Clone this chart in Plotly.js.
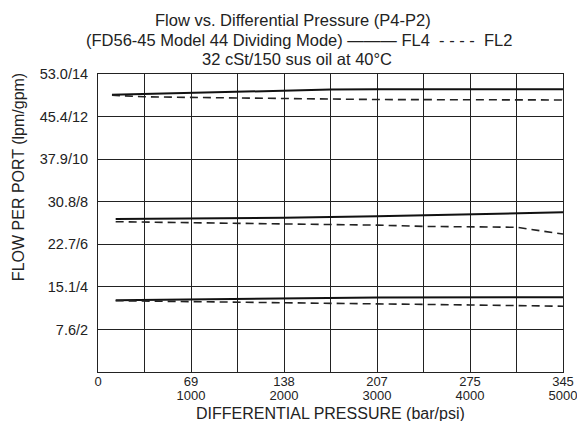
<!DOCTYPE html>
<html>
<head>
<meta charset="utf-8">
<script src="https://cdn.plot.ly/plotly-3.0.1.min.js"></script>
<style>html,body{margin:0;padding:0;background:#fff;}#chart{width:577px;height:421px;}</style>
</head>
<body>
<div id="chart"></div>
<script>
// Pressure (psi) and flow per port (gpm)
var topFL4X = [150, 1000, 2000, 2500, 3000, 4000, 5000];
var topFL4Y = [13.02, 13.12, 13.22, 13.27, 13.28, 13.28, 13.28];
var topFL2X = [150, 500, 1000, 2000, 2500, 3000, 4000, 5000];
var topFL2Y = [13.00, 12.93, 12.90, 12.84, 12.81, 12.80, 12.79, 12.78];

var midFL4X = [190, 1000, 2000, 3000, 4000, 5000];
var midFL4Y = [7.19, 7.21, 7.25, 7.32, 7.42, 7.50];
var midFL2X = [190, 1000, 2000, 3000, 3500, 4500, 5000];
var midFL2Y = [7.06, 7.02, 6.96, 6.90, 6.84, 6.80, 6.48];

var lowFL4X = [190, 1000, 2000, 2500, 3000, 5000];
var lowFL4Y = [3.37, 3.41, 3.45, 3.47, 3.50, 3.51];
var lowFL2X = [190, 1000, 2000, 3000, 4000, 5000];
var lowFL2Y = [3.35, 3.30, 3.25, 3.20, 3.15, 3.09];

var xTickVals = [0, 500, 1000, 1500, 2000, 2500, 3000, 3500, 4000, 4500, 5000];
var xTickBar = ['0', '', '69', '', '138', '', '207', '', '275', '', '345'];
var xTickPsi = ['', '', '1000', '', '2000', '', '3000', '', '4000', '', '5000'];
var yTickVals = [0, 2, 4, 6, 8, 10, 12, 14];
var yTickText = ['', '7.6/2', '15.1/4', '22.7/6', '30.8/8', '37.9/10', '45.4/12', '53.0/14'];

var titleLines = [
  'Flow vs. Differential Pressure (P4-P2)',
  '(FD56-45 Model 44 Dividing Mode) \u2014\u2014\u2014 FL4  - - - -  FL2',
  '32 cSt/150 sus oil at 40\u00B0C'
];

var solid = {color: '#111', width: 2};
var dashed = {color: '#222', width: 1.6, dash: '8px,5px'};

function tr(x, y, line, name) {
  return {x: x, y: y, type: 'scatter', mode: 'lines', line: line, name: name, showlegend: false, hoverinfo: 'skip'};
}

var data = [
  tr(topFL4X, topFL4Y, solid, 'FL4'),
  tr(topFL2X, topFL2Y, dashed, 'FL2'),
  tr(midFL4X, midFL4Y, solid, 'FL4'),
  tr(midFL2X, midFL2Y, dashed, 'FL2'),
  tr(lowFL4X, lowFL4Y, solid, 'FL4'),
  tr(lowFL2X, lowFL2Y, dashed, 'FL2'),
  {x: [0, 5000], y: [0, 0], xaxis: 'x2', yaxis: 'y', type: 'scatter', mode: 'lines',
   line: {width: 0, color: 'rgba(0,0,0,0)'}, showlegend: false, hoverinfo: 'skip'}
];

var fam = 'Liberation Sans, Arial, sans-serif';
var ink = '#222';

var titleY = [1.181, 1.114, 1.050];
var titleX = [0.419, 0.432, 0.429];
var annotations = titleLines.map(function (t, i) {
  return {text: t, xref: 'paper', yref: 'paper', x: titleX[i], y: titleY[i],
          xanchor: 'center', yanchor: 'middle', showarrow: false,
          font: {size: 16.5, family: fam, color: ink}};
});
annotations.push(
  {text: 'FLOW PER PORT (lpm/gpm)', textangle: -90, xref: 'paper', yref: 'paper',
   x: -0.172, y: 0.654, xanchor: 'center', yanchor: 'middle', showarrow: false,
   font: {size: 16, family: fam, color: ink}},
  {text: 'DIFFERENTIAL PRESSURE (bar/psi)', xref: 'paper', yref: 'paper',
   x: 0.5, y: -0.138, xanchor: 'center', yanchor: 'middle', showarrow: false,
   font: {size: 16, family: fam, color: ink}}
);

var layout = {
  width: 577, height: 421,
  margin: {l: 98, r: 14, t: 74, b: 49},
  paper_bgcolor: '#fff', plot_bgcolor: '#fff',
  font: {family: fam, color: ink, size: 13},
  xaxis: {
    range: [0, 5000], tickmode: 'array', tickvals: xTickVals, ticktext: xTickBar,
    showgrid: true, gridcolor: ink, gridwidth: 1, zeroline: false,
    showline: true, linecolor: ink, linewidth: 1, mirror: true,
    ticks: '', tickfont: {size: 13}, ticklabeloverflow: 'allow', ticklabelstandoff: -3
  },
  xaxis2: {
    range: [0, 5000], overlaying: 'x', anchor: 'y', side: 'bottom',
    tickmode: 'array', tickvals: xTickVals, ticktext: xTickPsi,
    showgrid: false, zeroline: false, showline: false,
    ticks: '', tickfont: {size: 13}, ticklabeloverflow: 'allow', ticklabelstandoff: 14
  },
  yaxis: {
    range: [0, 14], tickmode: 'array', tickvals: yTickVals, ticktext: yTickText,
    showgrid: true, gridcolor: ink, gridwidth: 1, zeroline: false,
    showline: true, linecolor: ink, linewidth: 1, mirror: true,
    ticks: '', tickfont: {size: 14.5}, ticklabelstandoff: 6
  },
  annotations: annotations
};

Plotly.newPlot('chart', data, layout, {staticPlot: true, displayModeBar: false});
</script>
</body>
</html>
